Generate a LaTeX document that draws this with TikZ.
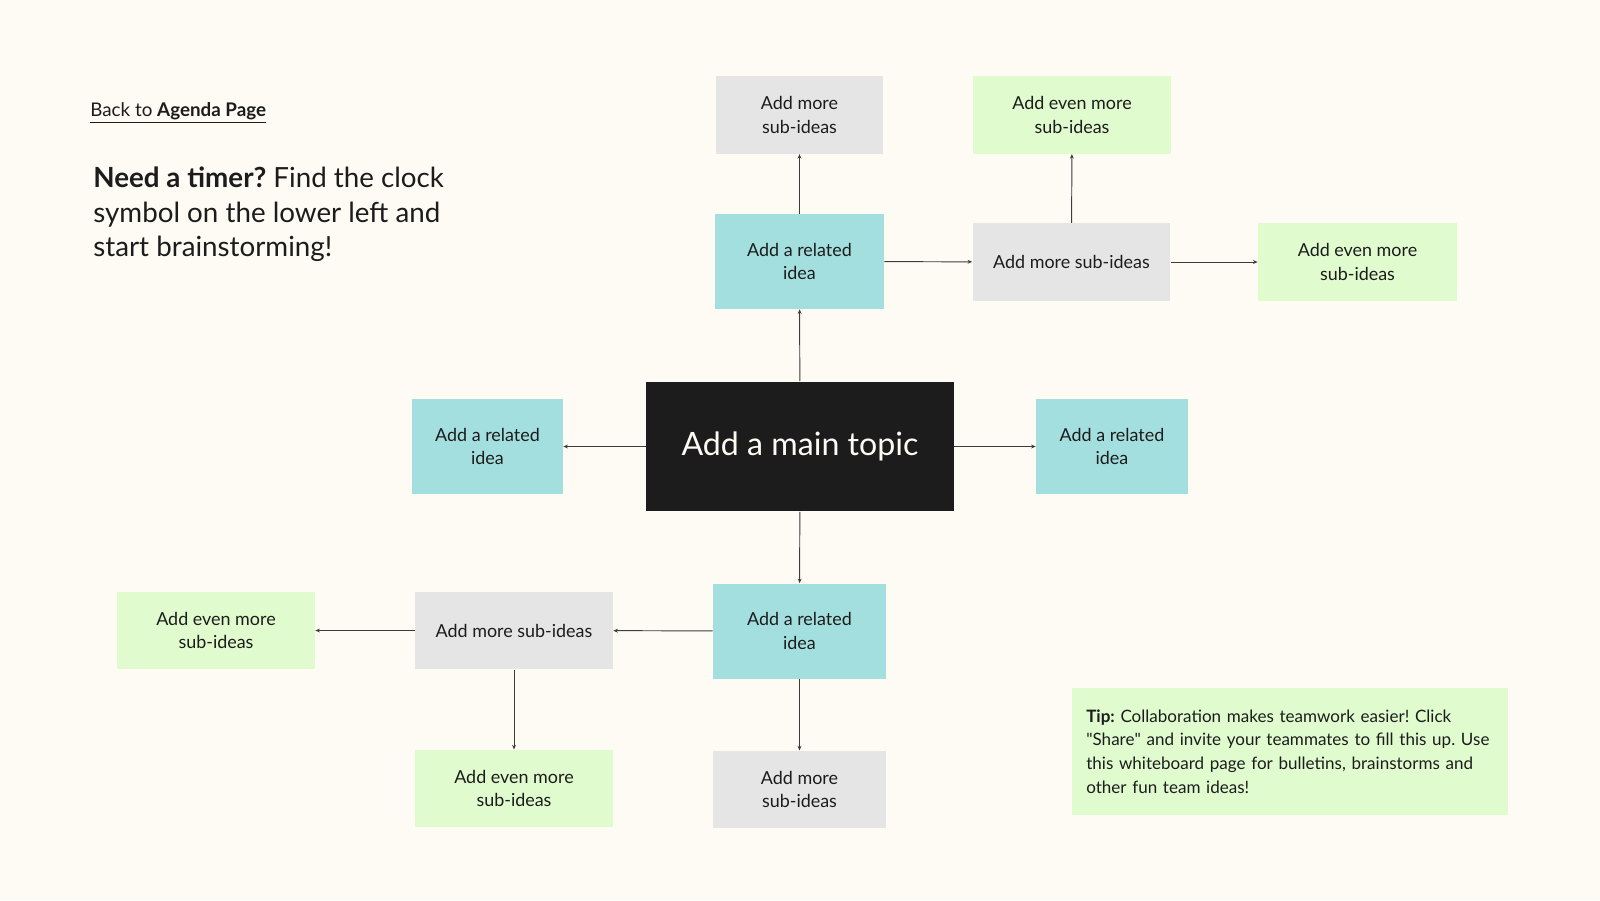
\documentclass[tikz,border=0pt]{standalone}
\usepackage{fontspec}
\setmainfont{Lato}
\newfontfamily\plainq{Lato}
\usetikzlibrary{arrows.meta, positioning}

\definecolor{paper}{RGB}{253,251,244}
\definecolor{teal}{RGB}{164,223,223}
\definecolor{greyish}{RGB}{229,229,229}
\definecolor{mint}{RGB}{224,251,206}
\definecolor{ink}{RGB}{28,28,28}
\definecolor{linec}{RGB}{60,60,60}

\frenchspacing

\tikzset{
  box/.style={inner sep=0pt, align=center, text=ink,
    font=\fontsize{10.2pt}{13.4pt}\selectfont},
  related/.style={box, fill=teal, minimum height=1.9cm},
  subidea/.style={box, fill=greyish, minimum height=1.55cm},
  evenmore/.style={box, fill=mint, minimum height=1.55cm},
  link/.style={draw=linec, line width=0.55pt, -{Stealth[length=2.6pt,width=2.2pt]}}
}

\begin{document}
\begin{tikzpicture}[x=0.02cm, y=-0.02cm]
    % Background and page size
    \fill[paper] (0,0) rectangle (1600,900);
    \useasboundingbox (0,0) rectangle (1600,900);

    % Header texts
    \node[anchor=base west, inner sep=0pt, text=ink, font=\fontsize{10.7pt}{13pt}\selectfont]
      (back) at (90,116) {\underline{Back to \textbf{Agenda Page}}};
    \node[anchor=north west, inner sep=0pt, align=left, text=ink,
      font=\fontsize{15.8pt}{19.4pt}\selectfont]
      (timer) at (93,167) {\textbf{Need a timer?} Find the clock\\symbol on the lower left and\\start brainstorming!};

    % Main topic
    \node[fill=ink, text=paper, minimum width=6.16cm, minimum height=2.6cm,
      font=\fontsize{18.3pt}{20pt}\selectfont] (main) at (800,446.5) {Add a main topic};

    % Related ideas
    \node[related, minimum width=3.38cm] (relTop) at (799.5,261.5) {Add a related\\idea};
    \node[related, minimum width=3.02cm] (relLeft) at (487.5,446.5) {Add a related\\idea};
    \node[related, minimum width=3.04cm] (relRight) at (1112,446.5) {Add a related\\idea};
    \node[related, minimum width=3.46cm] (relBot) at (799.5,631) {Add a related\\idea};

    % Sub-ideas
    \node[subidea, minimum width=3.34cm] (subTop) at (799.5,115) {Add more\\sub-ideas};
    \node[subidea, minimum width=3.96cm] (subRight) at (1071.5,262) {Add more sub-ideas};
    \node[subidea, minimum width=3.46cm] (subBot) at (799.5,789.5) {Add more\\sub-ideas};
    \node[subidea, minimum width=3.96cm] (subLeft) at (514,630.5) {Add more sub-ideas};

    % Even more sub-ideas
    \node[evenmore, minimum width=3.98cm] (evenTop) at (1072,115) {Add even more\\sub-ideas};
    \node[evenmore, minimum width=3.98cm] (evenRight) at (1357.5,262) {Add even more\\sub-ideas};
    \node[evenmore, minimum width=3.96cm] (evenLeft) at (216,630.5) {Add even more\\sub-ideas};
    \node[evenmore, minimum width=3.96cm] (evenBot) at (514,788.5) {Add even more\\sub-ideas};

    % Connectors
    \draw[link] (main) -- (relTop);
    \draw[link] (main) -- (relLeft);
    \draw[link] (main) -- (relRight);
    \draw[link] (main) -- (relBot);
    \draw[link] (relTop) -- (subTop);
    \draw[link] (relTop) -- (subRight);
    \draw[link] (subRight) -- (evenTop);
    \draw[link] (subRight) -- (evenRight);
    \draw[link] (relBot) -- (subBot);
    \draw[link] (relBot) -- (subLeft);
    \draw[link] (subLeft) -- (evenLeft);
    \draw[link] (subLeft) -- (evenBot);

    % Tip
    \node[fill=mint, text=ink, align=left, text width=8.15cm, inner xsep=0.28cm,
      minimum height=2.54cm, font=\fontsize{9.7pt}{13.4pt}\selectfont]
      (tip) at (1290,751.5) {\textbf{Tip:} Collaboration makes teamwork easier! Click\\{\plainq"}Share{\plainq"} and invite your teammates to fill this up. Use\\this whiteboard page for bulletins, brainstorms and\\other fun team ideas!};
\end{tikzpicture}
\end{document}
